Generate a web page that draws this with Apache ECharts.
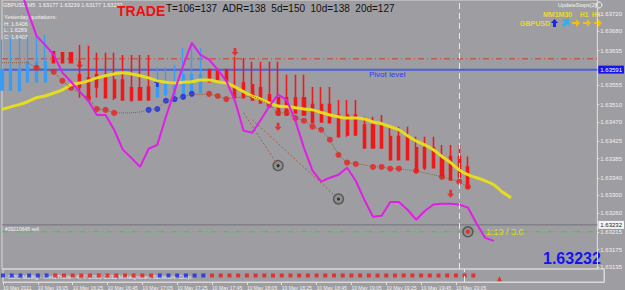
<!DOCTYPE html>
<html><head><meta charset="utf-8">
<script src="https://cdn.jsdelivr.net/npm/echarts@6/dist/echarts.min.js"></script>
<style>html,body{margin:0;padding:0;background:#9e9ea2;}#c{width:625px;height:290px;}</style>
</head><body><div id="c"></div>
<script>
// ---- data ----
const xTickLabels = ["10 May 2011","10 May 16:05","10 May 16:25","10 May 16:45","10 May 17:05","10 May 17:25","10 May 17:45","10 May 18:05","10 May 18:25","10 May 18:45","10 May 19:05","10 May 19:25","10 May 19:45","10 May 20:05"];
const yTickLabels = [1.63720,1.63680,1.63635,1.63555,1.63510,1.63470,1.63425,1.63385,1.63340,1.63300,1.63260,1.63215,1.63175,1.63135];
const barColor = ["B","B","B","B","B","B","R","R","R","R","R","R","R","R","R","R","R","R","B","B","B","B","B","B","R","R","R","R","R","R","R","R","R","R","R","R","R","R","R","R","R","R","R","R","R","R","R","R","R","R","R","R","R","R","R"];
const open  = [1.63544,1.63544,1.63542,1.63563,1.63563,1.63563,1.63632,1.63630,1.63630,1.63579,1.63572,1.63579,1.63572,1.63567,1.63567,1.63549,1.63549,1.63551,1.63528,1.63533,1.63533,1.63528,1.63533,1.63537,1.63591,1.63591,1.63591,1.63551,1.63560,1.63556,1.63549,1.63533,1.63526,1.63526,1.63526,1.63526,1.63510,1.63510,1.63510,1.63486,1.63486,1.63486,1.63463,1.63463,1.63463,1.63436,1.63436,1.63436,1.63410,1.63410,1.63410,1.63390,1.63390,1.63390,1.63366];
const close = [1.63591,1.63591,1.63591,1.63609,1.63609,1.63609,1.63607,1.63607,1.63607,1.63551,1.63526,1.63551,1.63526,1.63526,1.63521,1.63521,1.63521,1.63521,1.63556,1.63556,1.63556,1.63579,1.63579,1.63579,1.63563,1.63567,1.63563,1.63526,1.63526,1.63521,1.63514,1.63505,1.63486,1.63486,1.63491,1.63486,1.63468,1.63470,1.63468,1.63436,1.63440,1.63440,1.63410,1.63410,1.63410,1.63383,1.63383,1.63383,1.63355,1.63364,1.63364,1.63343,1.63336,1.63343,1.63318];
const low   = [1.63544,1.63544,1.63542,1.63563,1.63563,1.63563,1.63607,1.63607,1.63607,1.63526,1.63517,1.63526,1.63526,1.63521,1.63521,1.63517,1.63521,1.63521,1.63528,1.63533,1.63533,1.63528,1.63533,1.63537,1.63563,1.63567,1.63563,1.63526,1.63526,1.63521,1.63514,1.63505,1.63486,1.63486,1.63491,1.63486,1.63468,1.63470,1.63468,1.63436,1.63436,1.63440,1.63410,1.63410,1.63410,1.63383,1.63383,1.63383,1.63355,1.63359,1.63364,1.63343,1.63336,1.63336,1.63318];
const high  = [1.63660,1.63665,1.63665,1.63667,1.63671,1.63671,1.63632,1.63630,1.63630,1.63648,1.63646,1.63630,1.63630,1.63630,1.63625,1.63625,1.63625,1.63625,1.63597,1.63597,1.63602,1.63641,1.63648,1.63641,1.63591,1.63591,1.63591,1.63621,1.63618,1.63609,1.63609,1.63609,1.63609,1.63579,1.63579,1.63579,1.63551,1.63551,1.63551,1.63521,1.63521,1.63521,1.63482,1.63482,1.63486,1.63459,1.63459,1.63459,1.63436,1.63436,1.63436,1.63417,1.63417,1.63417,1.63390];
const maLine = [1.63499,1.63505,1.63510,1.63517,1.63526,1.63530,1.63537,1.63544,1.63556,1.63560,1.63565,1.63572,1.63577,1.63581,1.63584,1.63581,1.63577,1.63572,1.63565,1.63562,1.63560,1.63562,1.63563,1.63567,1.63567,1.63563,1.63560,1.63551,1.63540,1.63530,1.63523,1.63514,1.63507,1.63505,1.63503,1.63500,1.63498,1.63492,1.63486,1.63482,1.63479,1.63479,1.63477,1.63470,1.63466,1.63459,1.63452,1.63438,1.63426,1.63417,1.63406,1.63390,1.63376,1.63359,1.63348,1.63341,1.63334,1.63325,1.63308,1.63295];
const magenta = [null,null,1.63787,1.63725,1.63669,1.63648,1.63625,1.63584,1.63563,1.63540,1.63519,1.63486,1.63486,1.63452,1.63406,1.63387,1.63366,1.63408,1.63417,1.63482,1.63542,1.63600,1.63653,1.63625,1.63614,1.63591,1.63565,1.63519,1.63450,1.63445,1.63475,1.63507,1.63533,1.63521,1.63473,1.63410,1.63357,1.63332,1.63341,1.63348,1.63364,1.63334,1.63290,1.63251,1.63253,1.63285,1.63285,1.63267,1.63244,1.63264,1.63279,1.63281,1.63281,1.63279,1.63272,1.63235,1.63202,1.63195];
const psar = [1.63607,1.63607,1.63607,1.63607,1.63595,1.63591,1.63586,1.63565,1.63549,1.63537,1.63526,1.63500,1.63498,1.63491,1.63491,1.63491,1.63493,1.63498,1.63500,1.63519,1.63523,1.63528,1.63535,1.63533,1.63535,1.63530,1.63523,1.63526,1.63528,1.63530,1.63521,1.63510,1.63491,1.63491,1.63479,1.63473,1.63459,1.63452,1.63429,1.63394,1.63376,1.63373,1.63371,1.63366,1.63366,1.63362,1.63362,1.63359,1.63357,1.63352,1.63348,1.63343,1.63338,1.63332,1.63320];
const psarDot = ["","","","","R","","R","R","R","","R","R","R","R","","","","B","B","B","B","B","B","","R","R","R","","","R","","R","R","R","R","R","R","R","R","R","R","R","","R","R","R","R","","R","","","R","","R","R"];
const stripColor = barColor;
const downArrows = [[9,1.63602],[27,1.63632],[32,1.63459],[52,1.63304]];
const upArrows = [[18,1.63560]];
const targets = [[32,1.63369],[39,1.63292],[54,1.63216]];
const trendLines = [[[28,1.63491],[32,1.63369]],[[29,1.63475],[39,1.63292]]];
const redLevel = 1.63616, pivotLevel = 1.63591, bidLevel = 1.63232, tpLevel = 1.63216;
const nowIndex = 53;
const totalSlots = 70;

// ---- build ----
const cats = [];
for (let i = 0; i < totalSlots; i++) { const m = 15*60+45+5*i; cats.push(String(Math.floor(m/60)).padStart(2,'0')+':'+String(m%60).padStart(2,'0')); }
const RED = '#f01818', BLUE = '#3a9cf2';
const candles = open.map((o,i)=>{ const c = barColor[i]==='R'?RED:BLUE;
  return {value:[o,close[i],low[i],high[i]], itemStyle:{color:c,color0:c,borderColor:c,borderColor0:c,borderWidth:barColor[i]==='R'?1.6:1.4}}; });
const dotR=[],dotB=[];
psarDot.forEach((d,i)=>{ if(d==='R')dotR.push([i,psar[i]]); if(d==='B')dotB.push([i,psar[i]]); });
const stripR=[],stripB=[];
stripColor.forEach((d,i)=>{ (d==='R'?stripR:stripB).push([i,0.5]); });
const showTick = (idx)=> idx%4===0 && idx/4 < xTickLabels.length;
const last = totalSlots-1;
const level = (v,color,type,width,label)=>({type:'line',data:[[0,v],[last,v]],symbol:'none',silent:true,z:1,
   lineStyle:{color:color,type:type,width:width},
   endLabel: label ? {show:true,formatter:v.toFixed(5),color:label[1],backgroundColor:label[0],fontSize:6,padding:[1,2],distance:1,fontFamily:'Liberation Sans'} : {show:false}});

const chart = echarts.init(document.getElementById('c'), null, {renderer:'svg'});
const txt = (x,y,text,fill,font)=>({type:'text',x:x,y:y,silent:true,style:{text:text,fill:fill,font:font,align:'left',verticalAlign:'middle'}});
const poly = (x,y,pts,fill)=>({type:'polygon',x:x,y:y,silent:true,shape:{points:pts},style:{fill:fill}});
const rightArrow = [[0,3],[4,3],[4,0],[8,4],[4,8],[4,5],[0,5]];
chart.setOption({
  animation:false,
  backgroundColor:'#9e9ea2',
  grid:[{left:2,right:21,top:0,height:269,show:true,borderColor:'#d8d8d8',borderWidth:1},
        {left:2,right:21,top:269,height:13,show:true,borderColor:'#d8d8d8',borderWidth:1}],
  xAxis:[
    {gridIndex:0,type:'category',data:cats,boundaryGap:false,axisLine:{show:false},axisTick:{show:false},axisLabel:{show:false},splitLine:{show:false}},
    {gridIndex:1,type:'category',data:cats,boundaryGap:false,axisLine:{show:true,lineStyle:{color:'#d8d8d8'}},
     axisTick:{show:true,interval:(i)=>showTick(i),length:3,lineStyle:{color:'#e0e0e0'}},
     axisLabel:{interval:(i)=>showTick(i),formatter:(v,i)=>xTickLabels[i/4],align:'left',fontSize:5,color:'#f0f0f0',margin:3,fontFamily:'Liberation Sans'},splitLine:{show:false}}
  ],
  yAxis:[
    {gridIndex:0,type:'value',position:'right',min:1.63130,max:1.63752,axisLine:{show:true,lineStyle:{color:'#d8d8d8'}},
     axisTick:{show:true,customValues:yTickLabels,length:2,lineStyle:{color:'#e0e0e0'}},
     axisLabel:{customValues:yTickLabels,formatter:(v)=>v.toFixed(5),fontSize:6,color:'#f0f0f0',margin:3,fontFamily:'Liberation Sans'},splitLine:{show:false}},
    {gridIndex:1,type:'value',position:'right',min:0,max:1,axisLine:{show:true,lineStyle:{color:'#d8d8d8'}},axisTick:{show:false},axisLabel:{show:false},splitLine:{show:false}}
  ],
  series:[
    level(redLevel,'#c8402a',[6,3,1,3],1,null),
    level(pivotLevel,'#4a5fd8','solid',2,['#1414ee','#ffffff']),
    level(bidLevel,'#6f7478','solid',1,['#f4f4f4','#222222']),
    level(tpLevel,'#3cc83c',[6,3,1,3],1,null),
    {type:'candlestick',xAxisIndex:0,yAxisIndex:0,data:candles,barWidth:2.6,silent:true},
    {type:'line',data:maLine,smooth:0.3,symbol:'none',lineStyle:{color:'#e6dc1e',width:3},silent:true,
     markLine:{symbol:'none',silent:true,data:[{xAxis:nowIndex,lineStyle:{color:'#e8e8e8',type:[6,4],width:1},label:{show:false}}]}},
    {type:'line',xAxisIndex:1,yAxisIndex:1,data:stripR.map(()=>null),silent:true,symbol:'none',
     markLine:{symbol:'none',silent:true,data:[{xAxis:nowIndex,lineStyle:{color:'#e8e8e8',type:[6,4],width:1},label:{show:false}}]}},
    {type:'line',data:psar,symbol:'none',lineStyle:{color:'#8a6244',width:1,type:'dotted'},silent:true},
    ...trendLines.map(t=>({type:'line',data:t,symbol:'none',lineStyle:{color:'#b05a3a',width:1,type:[2,2]},silent:true})),
    {type:'scatter',data:dotR,symbol:'circle',symbolSize:6,itemStyle:{color:'#f21a1a'},silent:true},
    {type:'scatter',data:dotB,symbol:'circle',symbolSize:6,itemStyle:{color:'#1428e6'},silent:true},
    {type:'line',data:magenta,symbol:'none',lineStyle:{color:'#e01ee6',width:2},silent:true,connectNulls:false},
    {type:'scatter',data:downArrows,symbol:'path://M3,0L7,0L7,5L10,5L5,10L0,5L3,5Z',symbolSize:[7,8],itemStyle:{color:'#f01818'},silent:true},
    {type:'scatter',data:upArrows,symbol:'path://M5,0L10,5L7,5L7,10L3,10L3,5L0,5Z',symbolSize:[7,8],itemStyle:{color:'#1428e6'},silent:true},
    {type:'scatter',data:targets,symbol:'circle',symbolSize:10,itemStyle:{color:'#8c8c8c',borderColor:'#4a4a4a',borderWidth:1.5},silent:true},
    {type:'scatter',data:targets.slice(0,2),symbol:'circle',symbolSize:3,itemStyle:{color:'#111'},silent:true},
    {type:'scatter',data:targets.slice(2),symbol:'circle',symbolSize:4,itemStyle:{color:'#f01818'},silent:true},
    {type:'scatter',xAxisIndex:1,yAxisIndex:1,data:stripR,symbol:'rect',symbolSize:4,itemStyle:{color:'#f01818'},silent:true},
    {type:'scatter',xAxisIndex:1,yAxisIndex:1,data:stripB,symbol:'rect',symbolSize:4,itemStyle:{color:'#1428e6'},silent:true},
    {type:'scatter',xAxisIndex:1,yAxisIndex:1,data:[[57,0.25]],symbol:'triangle',symbolSize:5,itemStyle:{color:'#f01818'},silent:true}
  ],
  graphic:[
    txt(3,5,'GBPUSD,M5  1.63177 1.63239 1.63177 1.63232','#f4f4f4','5.5px Liberation Sans'),
    txt(117,11,'TRADE','#ee1010','bold 14px Liberation Sans'),
    txt(166,8,'T=106=137  ADR=138  5d=150  10d=138  20d=127','#111111','10px Liberation Sans'),
    txt(4,17,'Yesterday quotations:','#f4f4f4','5.5px Liberation Sans'),
    txt(4,24,'H: 1.6406','#f4f4f4','5.5px Liberation Sans'),
    txt(4,30,'L: 1.6289','#f4f4f4','5.5px Liberation Sans'),
    txt(4,37,'C: 1.6403','#f4f4f4','5.5px Liberation Sans'),
    txt(558,5,'UpdateStops(2)','#f4f4f4','5.5px Liberation Sans'),
    {type:'circle',shape:{cx:599,cy:5,r:3},style:{fill:'none',stroke:'#f4f4f4',lineWidth:1},silent:true},
    txt(543,14,'MM1M30','#e6dc1e','bold 7px Liberation Sans'),
    txt(580,14,'H1','#e6dc1e','bold 6.5px Liberation Sans'),
    txt(592,14,'H4','#e6dc1e','bold 6.5px Liberation Sans'),
    txt(520,23,'GBPUSD','#e6dc1e','bold 7px Liberation Sans'),
    poly(551,19,[[3.5,0],[7,4],[5,4],[5,8],[2,8],[2,4],[0,4]],'#1428e6'),
    poly(562,19,[[0,0],[7,0],[7,7],[5,5],[2,8],[0,6],[3,3]],'#2ab0f0'),
    poly(572,19,rightArrow,'#f0c010'),
    poly(583,19,rightArrow,'#f0c010'),
    poly(594,19,rightArrow,'#f0c010'),
    txt(369,74,'Pivot level','#2a3cf0','8px Liberation Sans'),
    txt(5,229,'#39210645 sell','#f4f4f4','5px Liberation Sans'),
    txt(486,232,'1:19 / 3.0','#e6dc1e','9px Liberation Sans'),
    txt(543,258,'1.63232','#1414ee','bold 16px Liberation Sans'),
    txt(2,277,'F-SDO Mollig - MetaTrader 4, \u00a9 2001-2011 MetaQuotes Software Corp.','#e8e8f8','6px Liberation Sans')
  ]
});
</script></body></html>
